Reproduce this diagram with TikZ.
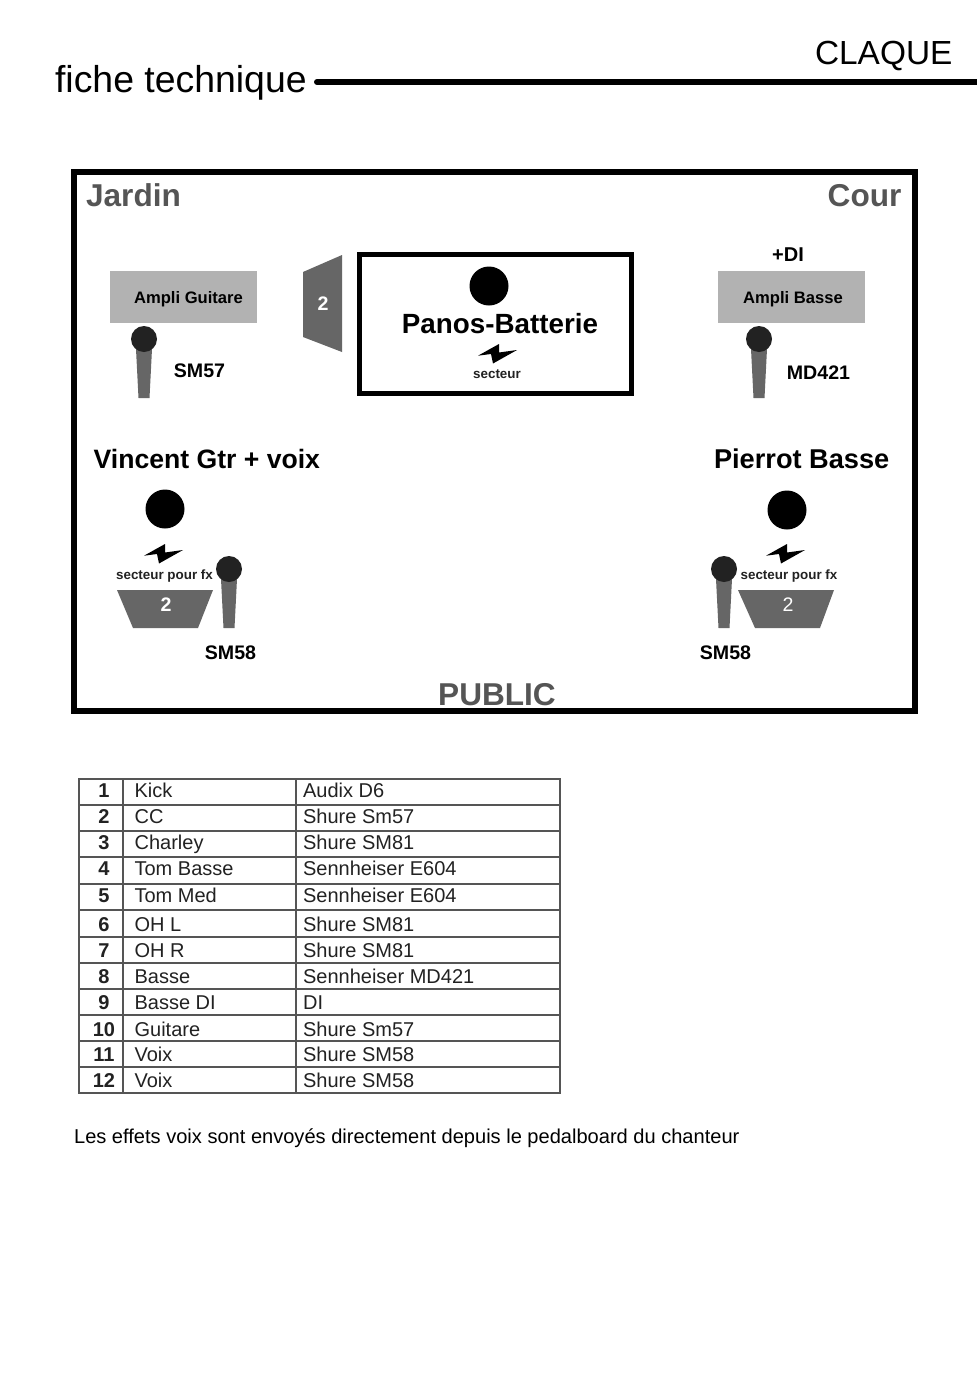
\documentclass[tikz,border=0pt]{standalone}
\usepackage{fontspec}
\setmainfont{Liberation Sans}
\usepackage{xcolor}
\definecolor{cabgrey}{HTML}{B2B2B2}
\definecolor{wedgegrey}{HTML}{666666}
\definecolor{headgrey}{HTML}{222222}
\definecolor{sidegrey}{HTML}{555555}
\newcommand{\px}[1]{\fontsize{#1}{#1}\selectfont}

\begin{document}
\begin{tikzpicture}[x=0.5pt, y=-0.5pt, semithick]
    \tikzstyle{label}=[inner sep=0pt, anchor=base, text=black]
    \tikzstyle{side}=[label, font=\bfseries\px{15.8}, text=sidegrey]
    \tikzstyle{who}=[label, font=\bfseries\px{13.5}]
    \tikzstyle{mictext}=[label, font=\bfseries\px{9.8}]
    \tikzstyle{power}=[label, font=\bfseries\px{6.7}, text=headgrey]
    \tikzstyle{cab}=[rectangle, fill=cabgrey, minimum width=73.5pt, minimum height=26pt, inner sep=0pt]
    \tikzstyle{player}=[circle, fill=black, minimum size=19.5pt, inner sep=0pt]
    \tikzstyle{wedge}=[fill=wedgegrey, draw=none]
    \tikzstyle{wedgetext}=[inner sep=0pt, anchor=base, text=white, font=\bfseries\px{9.8}]
    \tikzstyle{cell}=[draw=sidegrey, line width=0.8pt]
    \tikzstyle{celltext}=[inner sep=0pt, anchor=base west, text=headgrey, font=\px{10}]
    \tikzset{
        mic/.pic={
            \fill[wedgegrey] (-8,10) -- (8,10) -- (5.5,59) -- (-5.5,59) -- cycle;
            \fill[headgrey] (0,0) circle (13);
        },
        bolt/.pic={
            \fill[black] (-19,0.7) -- (2,-11) -- (2,-2.5) -- (20,-5) -- (-4,8.5) -- (-6,-1) -- cycle;
        }
    }

    \fill[white] (0,0) rectangle (976,1387);
    \useasboundingbox (0,0) rectangle (976,1387);

    % header
    \node[label, anchor=base west, font=\px{18.7}] (fiche) at (54.5,92) {fiche technique};
    \node[label, anchor=base east, font=\px{16.7}] (claque) at (953,64) {CLAQUE};
    \coordinate (ruleend) at (980,82);
    \draw[line width=3pt, line cap=round] (317,82) -- (ruleend);

    % stage
    \draw[line width=3pt] (74,172) rectangle (915,711);
    \node[side, anchor=base west] (jardin) at (85.5,206) {Jardin};
    \node[side, anchor=base east] (cour) at (902,206) {Cour};
    \node[side] (public) at (497,705) {PUBLIC};

    % drums
    \draw[line width=2.5pt] (359.5,254.5) rectangle (631.5,393.5);
    \node[player] (panos) at (489,286) {};
    \node[label, font=\bfseries\px{13.9}] (batterie) at (500,333) {Panos-Batterie};
    \pic (boltdrums) at (497,355) {bolt};
    \node[power] (secteur) at (497,378) {secteur};
    \fill[wedge] (303,272) -- (342,255) -- (342,352) -- (303,337) -- cycle;
    \node[wedgetext] (sidefill) at (323,310) {2};

    % guitar
    \node[cab] (ampliG) at (183.5,297) {};
    \node[label, font=\bfseries\px{8.3}] (ampliGtext) at (188.5,303) {Ampli Guitare};
    \pic (micG) at (144,339) {mic};
    \node[mictext] (sm57) at (199.5,377) {SM57};
    \node[who, anchor=base west, font=\bfseries\px{13.3}] (vincent) at (93,468) {Vincent Gtr + voix};
    \node[player] (vincenthead) at (165,509) {};
    \pic (boltV) at (163,555) {bolt};
    \node[power] (fxV) at (164.5,579) {secteur pour fx};
    \fill[wedge] (117,590) -- (213,590) -- (198,628) -- (133,628) -- cycle;
    \node[wedgetext] (monV) at (166,611) {2};
    \pic (micV) at (229,569) {mic};
    \node[mictext] (sm58V) at (230.5,659) {SM58};

    % bass
    \node[label, font=\bfseries\px{10}] (di) at (788,261) {+DI};
    \node[cab] (ampliB) at (791.5,297) {};
    \node[label, font=\bfseries\px{8.3}] (ampliBtext) at (793,303) {Ampli Basse};
    \pic (micB) at (759,339) {mic};
    \node[mictext] (md421) at (818.5,379) {MD421};
    \node[who, anchor=base east, font=\bfseries\px{13.6}] (pierrot) at (890,468) {Pierrot Basse};
    \node[player] (pierrothead) at (787,510) {};
    \pic (boltP) at (785,555) {bolt};
    \node[power] (fxP) at (789,579) {secteur pour fx};
    \fill[wedge] (738,590) -- (834,590) -- (820,628) -- (755,628) -- cycle;
    \node[wedgetext, font=\px{9.8}] (monP) at (788,611) {2};
    \pic (micP) at (724,569) {mic};
    \node[mictext] (sm58P) at (725.5,659) {SM58};

    % patch list
    \foreach \n/\top/\bot/\base/\inst/\mike in {
        1/779/805/797/Kick/Audix D6,
        2/805/831/823/CC/Shure Sm57,
        3/831/857/849/Charley/Shure SM81,
        4/857/884/875/Tom Basse/Sennheiser E604,
        5/884/910/902/Tom Med/Sennheiser E604,
        6/910/937/931/OH L/Shure SM81,
        7/937/963/957/OH R/Shure SM81,
        8/963/989/983/Basse/Sennheiser MD421,
        9/989/1015/1009/Basse DI/DI,
        10/1015/1041/1036/Guitare/Shure Sm57,
        11/1041/1067/1061/Voix/Shure SM58,
        12/1067/1093/1087/Voix/Shure SM58} {
        \draw[cell] (79,\top) rectangle (123,\bot);
        \draw[cell] (123,\top) rectangle (296,\bot);
        \draw[cell] (296,\top) rectangle (560,\bot);
        \node[celltext, anchor=base, font=\bfseries\px{10}] (num\n) at (104,\base) {\n};
        \node[celltext] (inst\n) at (134,\base) {\inst};
        \node[celltext] (mike\n) at (302.5,\base) {\mike};
    }

    \node[celltext, text=black, font=\px{10.03}] (note) at (73.5,1143.5) {Les effets voix sont envoyés directement depuis le pedalboard du chanteur};
\end{tikzpicture}
\end{document}
